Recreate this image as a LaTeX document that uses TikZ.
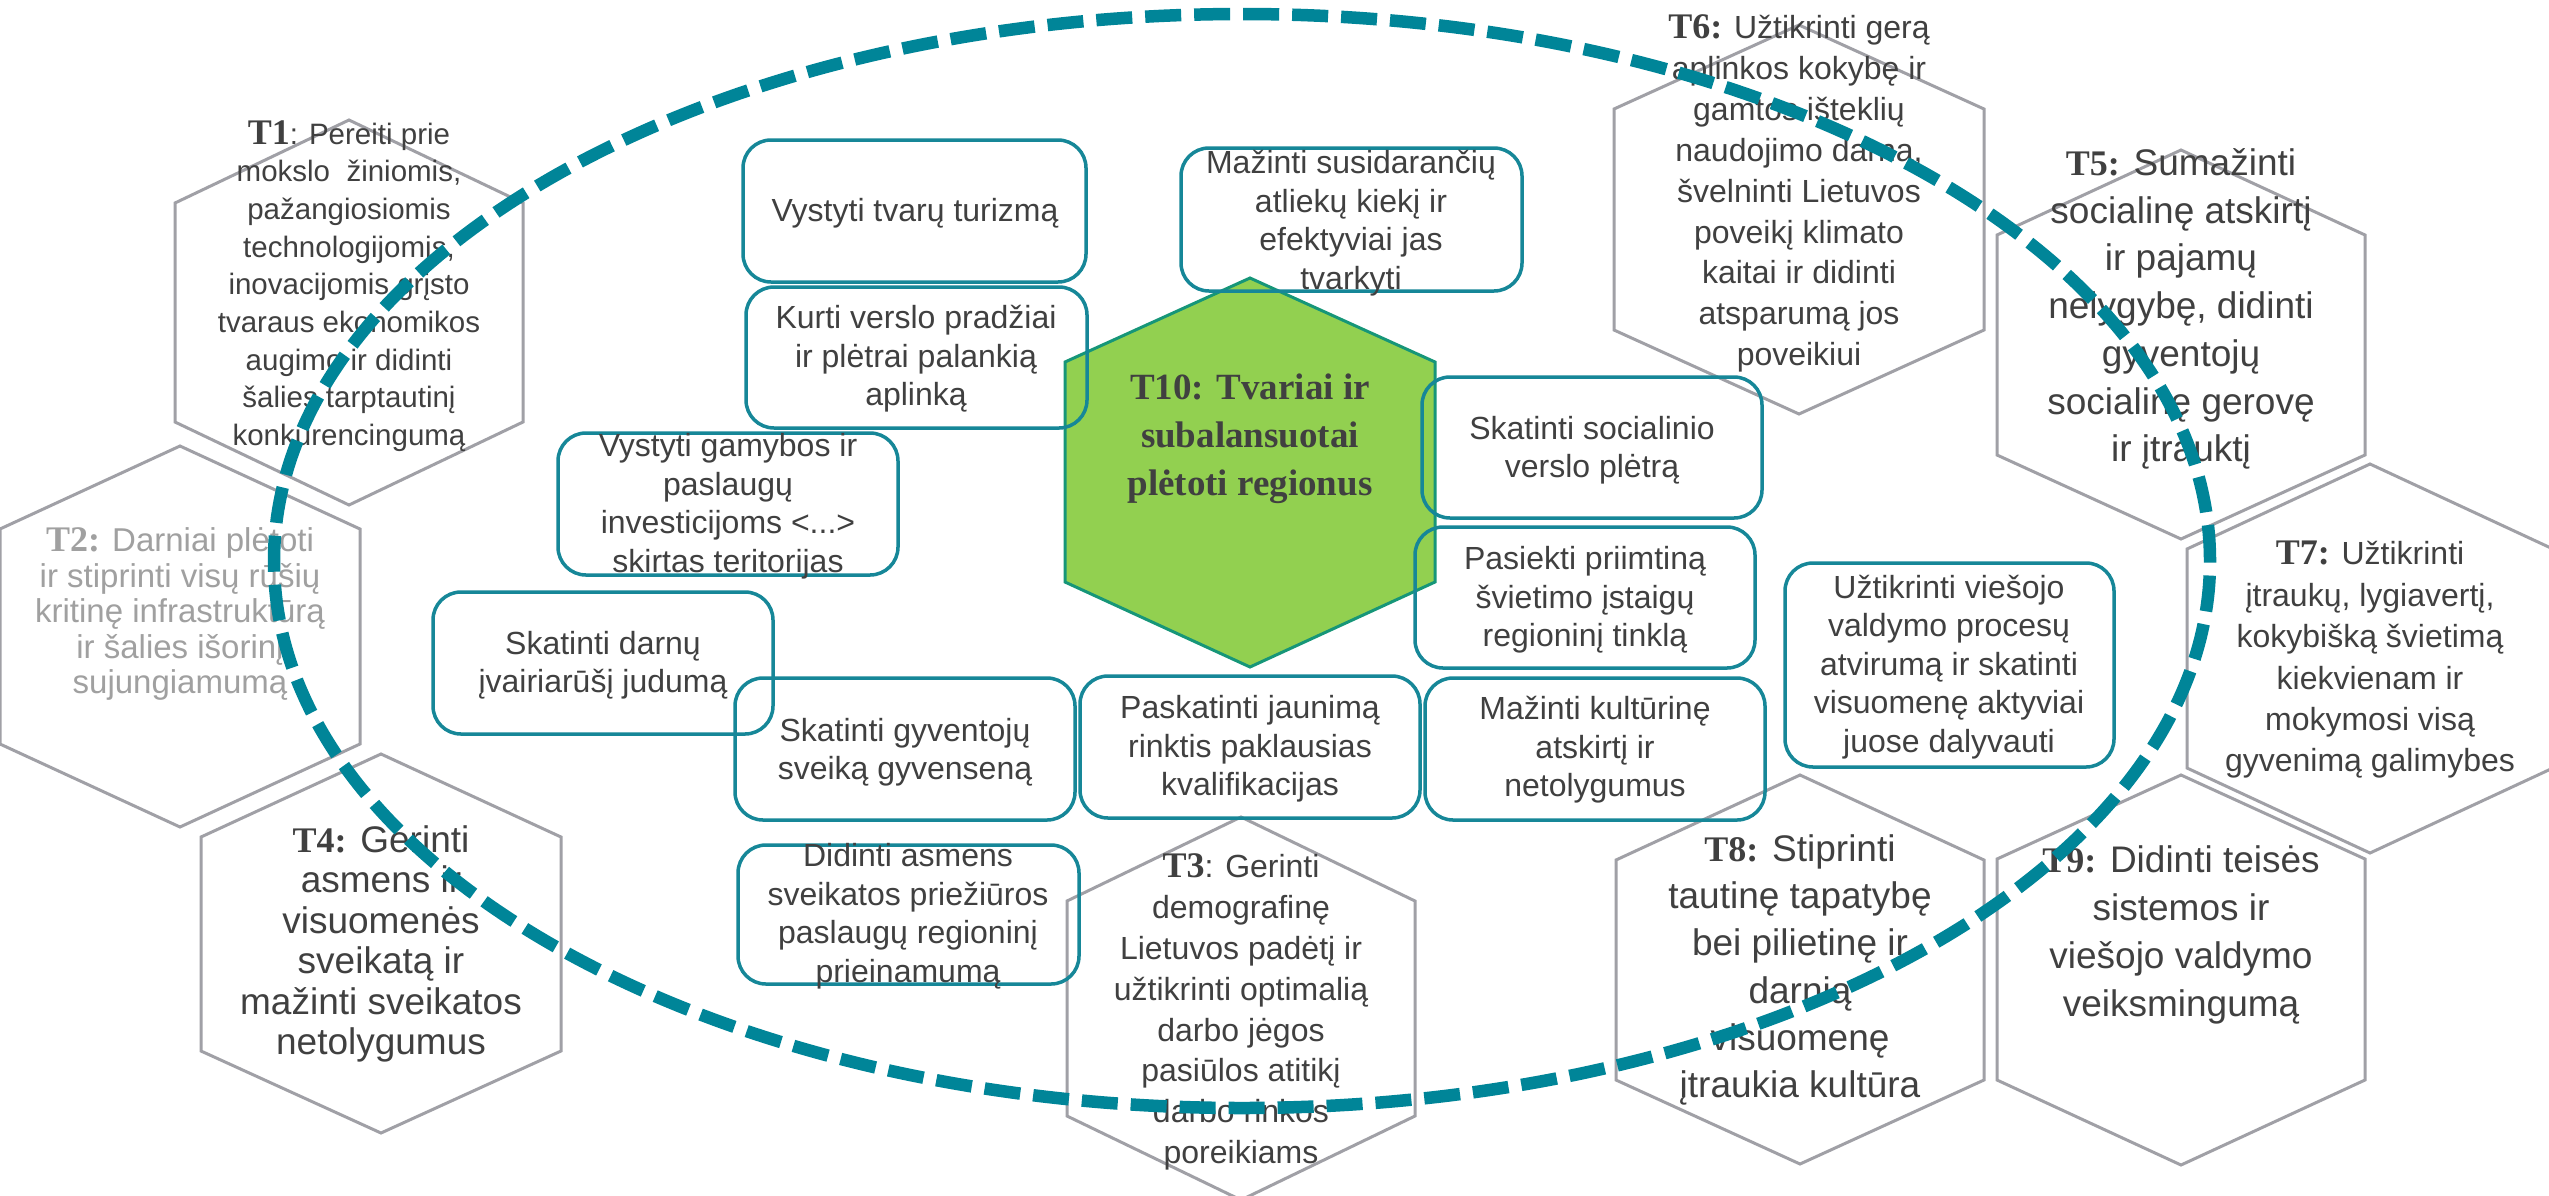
\documentclass[tikz,border=0pt]{standalone}
\usepackage{fontspec}
\setmainfont{Liberation Sans}
\newfontfamily\tnr{Liberation Serif}
\definecolor{txtgray}{RGB}{64,64,64}
\definecolor{paletxt}{RGB}{160,160,160}
\definecolor{hexgray}{RGB}{160,160,166}
\definecolor{tealdash}{RGB}{0,133,152}
\definecolor{tealbox}{RGB}{22,135,152}
\definecolor{greenfill}{RGB}{146,208,80}
\definecolor{greenline}{RGB}{22,150,120}
\newcommand\lab[1]{{\fontsize{36pt}{40pt}\selectfont\tnr\bfseries #1}}
\newcommand\hexshape[7]{%
  \draw[#1] (#2,#3) -- ({#2+#4},#5) -- ({#2+#4},#6) -- (#2,#7) -- ({#2-#4},#6) -- ({#2-#4},#5) -- cycle;}
\begin{document}
\begin{tikzpicture}[x=1pt,y=-1pt,
  hexline/.style={draw=hexgray,line width=3pt,line join=miter},
  greenhex/.style={draw=greenline,fill=greenfill,line width=3pt,line join=miter},
  boxline/.style={draw=tealbox,line width=3.5pt,rounded corners=28pt},
  txt/.style={align=center,text=txtgray,inner sep=0pt},
  boxtxt/.style={txt,font=\fontsize{32pt}{38.5pt}\selectfont},
  ring/.style={draw=tealdash,line width=12.5pt,dash pattern=on 36pt off 13pt}]
\useasboundingbox[fill=white] (0,0) rectangle (2549,1195);

% hexagons
\hexshape{hexline}{349}{120}{174}{203}{422}{505}
\hexshape{hexline}{180}{446}{180}{529}{744}{827}
\hexshape{hexline}{1241}{817}{174}{901}{1116}{1200}
\hexshape{hexline}{381}{754}{180}{837}{1051}{1133}
\hexshape{hexline}{2181}{150}{184}{235}{455}{539}
\hexshape{hexline}{1799}{25}{185}{109}{330}{414}
\hexshape{hexline}{2370}{464}{183}{549}{768}{853}
\hexshape{hexline}{1800}{775}{184}{860}{1080}{1164}
\hexshape{hexline}{2181}{775}{184}{859}{1080}{1165}
\hexshape{greenhex}{1250}{278}{185}{362}{582}{667}

% boxes
\draw[boxline] (743,140) rectangle (1086,282);
\draw[boxline] (746,287) rectangle (1087,428);
\draw[boxline] (558,433) rectangle (898,575);
\draw[boxline] (1181,148) rectangle (1522,291);
\draw[boxline] (1422,377) rectangle (1762,518);
\draw[boxline] (1415,527) rectangle (1755,668);
\draw[boxline] (1785,563) rectangle (2114,767);
\draw[boxline] (1080,676) rectangle (1420,818);
\draw[boxline] (1425,678) rectangle (1765,820);
\draw[boxline] (433,592) rectangle (773,734);
\draw[boxline] (735,678) rectangle (1075,820);
\draw[boxline] (738,845) rectangle (1079,984);

% box texts
\node[boxtxt] (b1) at (915,213) {Vystyti tvarų turizmą};
\node[boxtxt] (b2) at (916,359) {Kurti verslo pradžiai\\ir plėtrai palankią\\aplinką};
\node[boxtxt] (b3) at (728,506) {Vystyti gamybos ir\\paslaugų\\investicijoms <...>\\skirtas teritorijas};
\node[boxtxt] (b4) at (1351,223) {Mažinti susidarančių\\atliekų kiekį ir\\efektyviai jas\\tvarkyti};
\node[boxtxt] (b5) at (1592,450) {Skatinti socialinio\\verslo plėtrą};
\node[boxtxt] (b6) at (1585,600) {Pasiekti priimtiną\\švietimo įstaigų\\regioninį tinklą};
\node[boxtxt] (b7) at (1949,667) {Užtikrinti viešojo\\valdymo procesų\\atvirumą ir skatinti\\visuomenę aktyviai\\juose dalyvauti};
\node[boxtxt] (b8) at (1250,749) {Paskatinti jaunimą\\rinktis paklausias\\kvalifikacijas};
\node[boxtxt] (b9) at (1595,750) {Mažinti kultūrinę\\atskirtį ir\\netolygumus};
\node[boxtxt] (b10) at (603,665) {Skatinti darnų\\įvairiarūšį judumą};
\node[boxtxt] (b11) at (905,752) {Skatinti gyventojų\\sveiką gyvenseną};
\node[boxtxt] (b12) at (908,916) {Didinti asmens\\sveikatos priežiūros\\paslaugų regioninį\\prieinamumą};

% hexagon texts
\node[txt,font=\fontsize{29.5pt}{37.7pt}\selectfont] (t1) at (349,286)
  {\lab{T1}: Pereiti prie\\mokslo\ \ žiniomis,\\pažangiosiomis\\technologijomis,\\inovacijomis grįsto\\tvaraus ekonomikos\\augimo ir didinti\\šalies tarptautinį\\konkurencingumą};
\node[txt,text=paletxt,font=\fontsize{33pt}{35.5pt}\selectfont] (t2) at (180,614)
  {\lab{T2:} Darniai plėtoti\\ir stiprinti visų rūšių\\kritinę infrastruktūrą\\ir šalies išorinį\\sujungiamumą};
\node[txt,font=\fontsize{32pt}{40.9pt}\selectfont] (t3) at (1241,1012)
  {\lab{T3}: Gerinti\\demografinę\\Lietuvos padėtį ir\\užtikrinti optimalią\\darbo jėgos\\pasiūlos atitikį\\darbo rinkos\\poreikiams};
\node[txt,font=\fontsize{37pt}{40.4pt}\selectfont] (t4) at (381,944)
  {\lab{T4:} Gerinti\\asmens ir\\visuomenės\\sveikatą ir\\mažinti sveikatos\\netolygumus};
\node[txt,font=\fontsize{37pt}{47.7pt}\selectfont] (t5) at (2181,309)
  {\lab{T5:} Sumažinti\\socialinę atskirtį\\ir pajamų\\nelygybę, didinti\\gyventojų\\socialinę gerovę\\ir įtrauktį};
\node[txt,font=\fontsize{32pt}{40.9pt}\selectfont] (t6) at (1799,193.5)
  {\lab{T6:} Užtikrinti gerą\\aplinkos kokybę ir\\gamtos išteklių\\naudojimo darną,\\švelninti Lietuvos\\poveikį klimato\\kaitai ir didinti\\atsparumą jos\\poveikiui};
\node[txt,font=\fontsize{32pt}{41.4pt}\selectfont] (t7) at (2370,660)
  {\lab{T7:} Užtikrinti\\įtraukų, lygiavertį,\\kokybišką švietimą\\kiekvienam ir\\mokymosi visą\\gyvenimą galimybes};
\node[txt,font=\fontsize{37pt}{47.3pt}\selectfont] (t8) at (1800,970)
  {\lab{T8:} Stiprinti\\tautinę tapatybę\\bei pilietinę ir\\darnią\\visuomenę\\įtraukia kultūra};
\node[txt,font=\fontsize{37pt}{48pt}\selectfont] (t9) at (2181,935)
  {\lab{T9:} Didinti teisės\\sistemos ir\\viešojo valdymo\\veiksmingumą};
\node[txt,font=\fontsize{37pt}{48pt}\selectfont\tnr\bfseries] (t10) at (1250,439)
  {T10: Tvariai ir\\subalansuotai\\plėtoti regionus};

% dashed ring
\draw[ring] (1242,561) ellipse [x radius=968pt, y radius=547pt];
\end{tikzpicture}
\end{document}
